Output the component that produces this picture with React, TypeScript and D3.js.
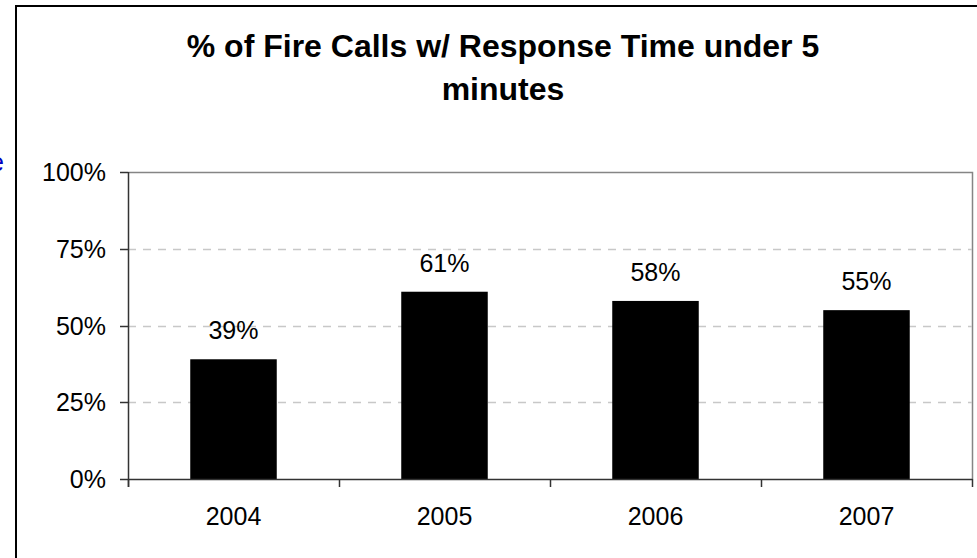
import React from "react";
import * as d3 from "d3";

// Share of fire calls answered in under five minutes, by year
const years = ["2004", "2005", "2006", "2007"];
const shareUnder5 = [0.39, 0.61, 0.58, 0.55];
const yTicks = [0, 0.25, 0.5, 0.75, 1];
const titleLines = ["% of Fire Calls w/ Response Time under 5", "minutes"];

const W = 977;
const H = 558;
const FONT = "'Liberation Sans', Arial, Helvetica, sans-serif";

export default function App() {
  const plot = { left: 128, right: 972, top: 172, bottom: 479 };

  const x = d3
    .scaleBand<string>()
    .domain(years)
    .range([plot.left, plot.right])
    .padding(0);

  const y = d3.scaleLinear().domain([0, 1]).range([plot.bottom, plot.top]);

  const barW = x.bandwidth() * 0.41;
  const pct = d3.format(".0%");

  // category boundaries for the x-axis tick marks
  const boundaries = years.map((yr) => x(yr) as number).concat([plot.right]);

  return (
    <svg
      width={W}
      height={H}
      viewBox={`0 0 ${W} ${H}`}
      style={{ position: "absolute", left: 0, top: 0, background: "#fff" }}
      fontFamily={FONT}
    >
      <rect x={0} y={0} width={W} height={H} fill="#fff" />

      {/* hyperlink fragment from the surrounding page */}
      <text x={4} y={171} fontSize={25} fill="#0000c0" textAnchor="end">
        e
      </text>

      {/* chart frame */}
      <rect
        x={16}
        y={6}
        width={W + 20}
        height={H + 20}
        fill="#fff"
        stroke="#000"
        strokeWidth={2}
      />

      {/* title */}
      {titleLines.map((t, i) => (
        <text
          key={t}
          x={503}
          y={57 + i * 43}
          textAnchor="middle"
          fontSize={32}
          fontWeight="bold"
          fill="#000"
        >
          {t}
        </text>
      ))}

      {/* plot area border (top and right) */}
      <path
        d={`M${plot.left},${plot.top + 0.5}H${plot.right + 0.5}V${plot.bottom}`}
        fill="none"
        stroke="#858585"
        strokeWidth={1.5}
      />

      {/* dashed gridlines */}
      {yTicks
        .filter((t) => t > 0 && t < 1)
        .map((t) => (
          <line
            key={`g${t}`}
            x1={plot.left}
            x2={plot.right}
            y1={Math.round(y(t)) + 0.5}
            y2={Math.round(y(t)) + 0.5}
            stroke="#c8c8c8"
            strokeWidth={1.5}
            strokeDasharray="8,7"
          />
        ))}

      {/* bars */}
      {years.map((yr, i) => {
        const cx = (x(yr) as number) + x.bandwidth() / 2;
        return (
          <rect
            key={`b${yr}`}
            x={cx - barW / 2}
            y={y(shareUnder5[i])}
            width={barW}
            height={plot.bottom - y(shareUnder5[i])}
            fill="#000"
          />
        );
      })}

      {/* value labels */}
      {years.map((yr, i) => {
        const cx = (x(yr) as number) + x.bandwidth() / 2;
        return (
          <text
            key={`v${yr}`}
            x={cx}
            y={y(shareUnder5[i]) - 20}
            textAnchor="middle"
            fontSize={25}
            fill="#000"
          >
            {pct(shareUnder5[i])}
          </text>
        );
      })}

      {/* y axis */}
      <line
        x1={plot.left + 0.5}
        x2={plot.left + 0.5}
        y1={plot.top}
        y2={plot.bottom + 8}
        stroke="#333"
        strokeWidth={1.5}
      />
      {yTicks.map((t) => (
        <g key={`y${t}`}>
          <line
            x1={plot.left - 8}
            x2={plot.left}
            y1={Math.round(y(t)) + 0.5}
            y2={Math.round(y(t)) + 0.5}
            stroke="#333"
            strokeWidth={1.5}
          />
          <text
            x={106}
            y={y(t)}
            dy="0.36em"
            textAnchor="end"
            fontSize={25}
            fill="#000"
          >
            {pct(t)}
          </text>
        </g>
      ))}

      {/* x axis */}
      <line
        x1={plot.left}
        x2={plot.right + 0.5}
        y1={plot.bottom + 0.5}
        y2={plot.bottom + 0.5}
        stroke="#333"
        strokeWidth={1.5}
      />
      {boundaries.map((bx, i) => (
        <line
          key={`xt${i}`}
          x1={bx + 0.5}
          x2={bx + 0.5}
          y1={plot.bottom}
          y2={plot.bottom + 8}
          stroke="#333"
          strokeWidth={1.5}
        />
      ))}
      {years.map((yr) => (
        <text
          key={`x${yr}`}
          x={(x(yr) as number) + x.bandwidth() / 2}
          y={525}
          textAnchor="middle"
          fontSize={25}
          fill="#000"
        >
          {yr}
        </text>
      ))}
    </svg>
  );
}
